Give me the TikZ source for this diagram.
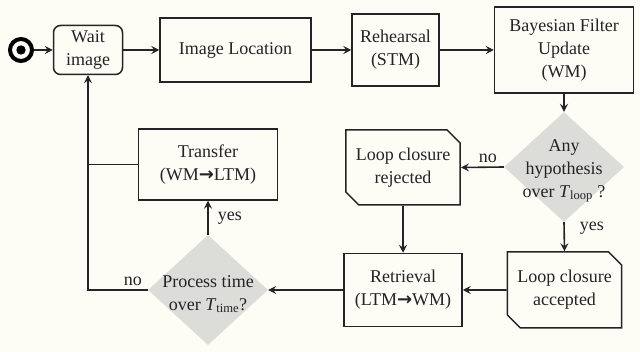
\documentclass[tikz,border=0pt]{standalone}
\usepackage{fontspec}
\setmainfont{Liberation Serif}
\newfontfamily\arrowfont{DejaVu Sans}
\usetikzlibrary{shapes.geometric,shapes.misc,arrows.meta}
\definecolor{paper}{RGB}{253,253,246}
\definecolor{decgray}{RGB}{220,221,216}
\definecolor{ink}{RGB}{35,35,40}
\newcommand{\toarr}{{\arrowfont\bfseries →}}
\newcommand{\thresh}[1]{\textit{T}\textsubscript{#1}}
\tikzset{
  stepbox/.style={draw=ink,line width=1.5pt,fill=paper,align=center,inner sep=0pt},
  waitbox/.style={stepbox,rounded corners=7pt},
  cutbox/.style={stepbox,chamfered rectangle,chamfered rectangle corners={north east,south west},chamfered rectangle xsep=10pt},
  decision/.style={diamond,fill=decgray,inner sep=0pt,minimum width=120pt,minimum height=110pt},
  dectext/.style={align=center,inner sep=0pt,yshift=-4pt},
  startdot/.style={circle,draw=black,line width=4pt,fill=paper,minimum size=22pt,inner sep=0pt,
    path picture={\fill[black] (path picture bounding box.center) circle (4.7pt);}},
  flow/.style={draw=ink,line width=1.6pt,-{Stealth[length=8pt,width=8pt,inset=3pt]}},
  link/.style={draw=ink,line width=1.6pt},
  tag/.style={inner sep=1pt}
}

\begin{document}
\begin{tikzpicture}[x=1pt,y=-1pt,font=\fontsize{18}{23}\selectfont,text=ink]
  \fill[paper] (0,0) rectangle (640,352);
  \useasboundingbox (0,0) rectangle (640,352);

  \node[startdot] (start) at (21,50) {};
  \node[waitbox,minimum width=69pt,minimum height=49pt] (wait) at (88,50) {Wait\\image};
  \node[stepbox,minimum width=151pt,minimum height=64pt] (loc) at (235.5,50) {Image Location};
  \node[stepbox,minimum width=87pt,minimum height=72pt] (reh) at (395.5,50) {Rehearsal\\(STM)};
  \node[stepbox,minimum width=139pt,minimum height=86pt] (bay) at (564,50) {Bayesian Filter\\Update\\(WM)};

  \node[decision] (hyp) at (564,167) {};
  \node[dectext] (hyptext) at (hyp) {Any\\hypothesis\\over \thresh{loop} ?};
  \node[cutbox,minimum width=108pt,minimum height=75pt] (rej) at (403,167.5) {Loop closure\\rejected};
  \node[cutbox,minimum width=107pt,minimum height=76pt] (acc) at (564.5,290) {Loop closure\\accepted};
  \node[stepbox,minimum width=118pt,minimum height=73pt] (ret) at (403,290) {Retrieval\\(LTM\toarr WM)};

  \node[decision] (proc) at (208,290) {};
  \node[dectext] (proctext) at (proc) {Process time\\over \thresh{time}?};
  \node[stepbox,minimum width=139pt,minimum height=71pt] (tra) at (208,164.5) {Transfer\\(WM\toarr LTM)};

  \coordinate (back) at (88,290);
  \coordinate (join) at (88,164.5);

  \draw[flow] (start) -- (wait);
  \draw[flow] (wait) -- (loc);
  \draw[flow] (loc) -- (reh);
  \draw[flow] (reh) -- (bay);
  \draw[flow] (bay) -- (hyp.north);
  \draw[flow] (hyp.west) -- (rej.east) node[tag,pos=0.37,above=3pt] {no};
  \draw[flow] (hyp.south) -- (acc.north) node[tag,pos=0.2,right=14pt] {yes};
  \draw[flow] (rej) -- (ret);
  \draw[flow] (acc) -- (ret);
  \draw[flow] (ret) -- (proc.east);
  \draw[flow] (proc.north) -- (tra.south) node[tag,midway,right=8pt] {yes};
  \draw[flow] (proc.west) -- (back) node[tag,pos=0.25,above=3pt] {no} -- (wait.south);
  \draw[link] (tra.west) -- (join);
\end{tikzpicture}
\end{document}
